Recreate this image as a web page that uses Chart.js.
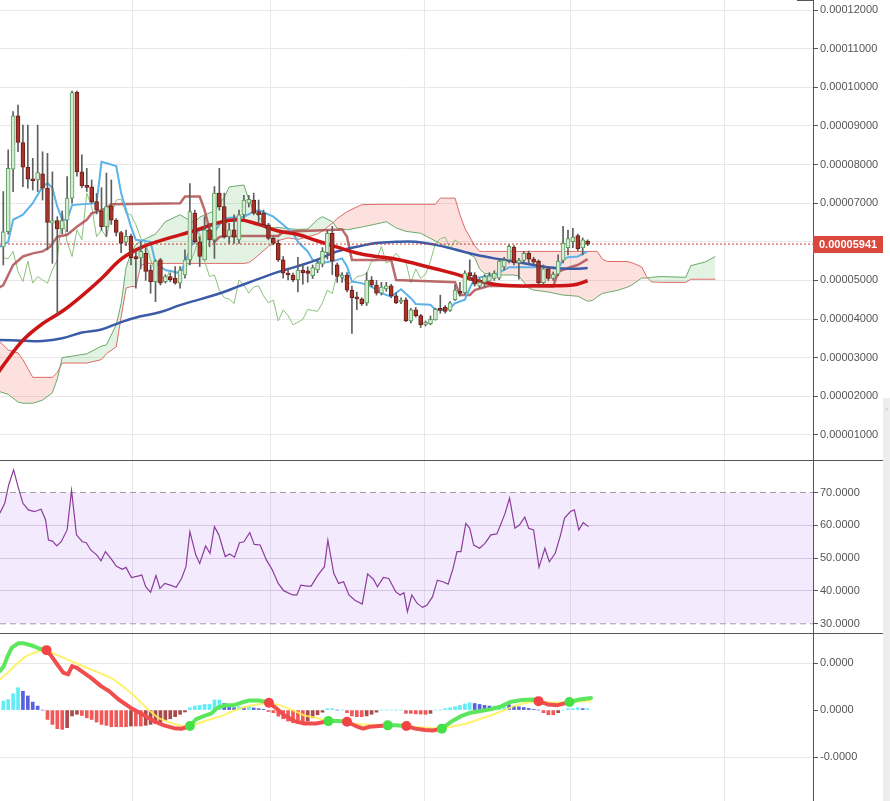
<!DOCTYPE html>
<html>
<head>
<meta charset="utf-8">
<title>Ichimoku / RSI / MACD</title>
<script src="https://cdn.jsdelivr.net/npm/chart.js@4.4.1/dist/chart.umd.min.js"></script>
<style>
  html, body { margin: 0; padding: 0; background: #ffffff; }
  #wrap { position: relative; width: 890px; height: 801px; overflow: hidden; }
  .pane { position: absolute; left: 0; width: 890px; }
  .sep { position: absolute; left: 0; width: 883px; height: 1px; background: #555; }
  #strip { position: absolute; left: 883px; top: 398px; width: 7px; height: 403px; background: #ededed; }
  #arrow { position: absolute; left: 883px; top: 404px; width: 7px; font: 9px 'Liberation Sans', Arial, sans-serif; color: #bbb; text-align: center; }
  #topmark { position: absolute; left: 797px; top: 0; width: 17px; height: 1px; background: #555; }
</style>
</head>
<body>
<div id="wrap">
  <div class="pane" style="top:0;height:460px"><canvas id="priceChart"></canvas></div>
  <div class="pane" style="top:460px;height:173px"><canvas id="rsiChart"></canvas></div>
  <div class="pane" style="top:633px;height:168px"><canvas id="macdChart"></canvas></div>
  <div class="sep" style="top:460px"></div>
  <div class="sep" style="top:633px"></div>
  <div id="topmark"></div>
  <div id="strip"></div>
  <div id="arrow">›</div>
</div>
<script>
// prices are in units of 0.00001, macd in units of 0.000001
const PRICE_UNIT = 1e-5;
const MACD_UNIT = 1e-6;

// candles, index 0..119
const OPEN = [5.87,6.26,7.88,9.26,8.57,7.93,7.63,7.60,7.76,7.39,
  6.48,6.55,6.33,6.56,7.13,9.87,7.81,7.45,7.42,7.04,
  6.80,6.39,6.93,6.56,6.24,5.99,6.14,5.62,5.58,5.70,
  5.27,4.97,5.53,4.97,5.10,5.06,4.93,5.14,5.53,6.74,
  6.00,5.53,6.31,6.05,7.26,6.91,6.13,6.31,6.05,6.70,
  7.00,7.08,6.78,6.74,6.44,6.09,5.96,5.53,5.19,5.14,
  5.01,5.27,5.25,5.12,5.27,5.42,5.72,6.22,5.40,5.08,
  5.14,4.75,4.57,4.52,4.42,5.01,4.88,4.67,4.78,4.86,
  4.60,4.44,4.50,3.95,4.24,4.09,3.86,3.88,3.98,4.28,
  4.30,4.22,4.50,4.72,4.68,5.20,5.14,4.85,4.95,4.98,
  5.05,5.06,5.35,5.53,5.86,5.45,5.52,5.70,5.55,5.50,
  4.94,5.30,5.05,5.16,5.52,5.85,6.00,6.16,5.84,6.02];
const HIGH = [7.30,8.38,9.37,9.54,9.02,9.02,8.16,9.02,8.33,8.29,
  7.81,6.65,6.80,7.69,9.90,9.90,8.25,7.90,7.60,7.25,
  7.40,7.78,7.60,6.60,6.27,6.30,6.20,5.75,6.00,5.85,
  5.40,5.53,5.57,5.15,5.19,5.36,5.36,5.79,7.51,6.82,
  6.13,6.65,6.48,7.43,7.90,7.26,6.48,6.70,6.82,7.20,
  7.20,7.26,7.08,6.82,6.48,6.13,6.05,5.62,5.32,5.19,
  5.60,5.40,5.35,5.40,5.55,5.85,6.30,6.40,5.45,5.20,
  5.20,4.85,4.70,4.55,5.20,5.10,5.00,4.95,4.95,4.90,
  4.68,4.55,4.55,4.28,4.30,4.12,3.95,4.08,4.28,4.62,
  4.35,4.45,4.88,4.95,5.25,5.53,5.20,5.05,5.15,5.20,
  5.25,5.55,5.60,5.92,5.90,5.57,5.75,5.76,5.60,5.53,
  5.40,5.35,5.22,5.66,6.40,6.30,6.35,6.20,6.10,6.05];
const LOW = [5.40,6.20,7.30,8.33,7.43,7.39,7.34,7.30,7.08,5.79,
  5.44,4.11,6.20,6.26,7.00,7.70,7.40,7.30,7.00,6.72,
  6.30,6.14,6.45,6.15,5.72,5.90,5.40,4.80,5.30,5.00,
  4.67,4.45,4.88,4.93,4.97,4.90,4.80,5.06,5.40,5.96,
  5.36,5.53,5.87,5.57,6.82,6.09,5.96,5.96,5.96,6.60,
  6.90,6.70,6.48,6.40,6.05,5.92,5.49,5.06,5.01,4.97,
  4.70,4.90,4.95,5.05,5.20,5.35,5.55,5.15,4.95,4.95,
  4.70,3.63,4.24,4.35,4.35,4.83,4.62,4.62,4.72,4.55,
  4.40,4.40,3.93,3.90,4.05,3.78,3.82,3.85,3.97,4.15,
  4.15,4.20,4.48,4.60,4.65,5.00,4.85,4.80,4.83,4.95,
  5.00,5.02,5.27,5.45,5.40,5.03,5.45,5.45,5.42,4.90,
  4.90,5.00,5.00,5.12,5.45,5.66,5.85,5.77,5.66,5.90];
const CLOSE = [6.26,7.90,9.26,8.57,7.93,7.62,7.58,7.79,7.39,6.50,
  6.55,6.33,6.55,7.13,9.86,7.81,7.45,7.41,7.04,6.82,
  6.39,6.91,6.56,6.24,5.96,6.14,5.59,5.56,5.75,5.23,
  4.97,5.50,4.93,5.10,5.01,4.93,5.27,5.53,6.78,6.00,
  5.62,6.31,6.05,7.26,6.91,6.13,6.31,6.12,6.70,7.08,
  7.10,6.74,6.70,6.44,6.09,5.96,5.53,5.19,5.14,5.01,
  5.27,5.20,5.18,5.33,5.45,5.75,6.22,5.50,5.10,5.14,
  4.75,4.55,4.52,4.40,5.01,4.88,4.67,4.83,4.86,4.60,
  4.42,4.49,3.95,4.24,4.09,3.85,3.92,3.99,4.25,4.22,
  4.20,4.42,4.75,4.66,5.19,5.12,4.90,4.95,5.10,5.12,
  5.18,5.50,5.52,5.88,5.45,5.52,5.70,5.55,5.47,4.94,
  5.30,5.05,5.16,5.50,5.96,6.08,6.12,5.82,6.05,5.941];
const LAST_PRICE = 5.941;
const CHIKOU_SHIFT = 26;

// ichimoku lines
const TENKAN_X = [-1,1,2,4,6,8,9,10,11,12,13,14,19,20,23,24,25,26,27,30,31,33,36,37,39,40,43,45,49,51,52,55,57,59,60,62,63,65,68,69,70,71,73,75,77,79,81,83,84,87,88,90,91,92,94,95,96,98,100,102,103,112,113,114,115,117,119];
const TENKAN = [5.85,6.00,6.57,6.70,7.00,7.43,7.52,7.39,6.91,6.57,6.57,6.95,7.00,8.07,7.96,7.26,6.82,6.39,6.05,6.00,5.45,5.27,5.19,5.45,6.13,6.31,6.26,6.61,6.65,6.78,6.82,6.65,6.44,6.22,6.00,5.75,5.53,5.45,5.53,5.57,5.36,4.97,4.93,4.84,4.67,4.58,4.77,4.54,4.39,4.37,4.24,4.24,4.28,4.41,4.50,4.80,5.06,5.10,5.14,5.27,5.34,5.34,5.32,5.53,5.60,5.62,5.75];
const KIJUN_X = [-1,0,2,4,6,8,9.5,11,13,15,17,18,20,21,22,36,37,40,41,42,43,44,45,56,57,69,70,71,79,80,92,93,95,96,99,112,113,115,117,119];
const KIJUN = [4.80,4.88,5.40,5.62,5.70,5.75,5.87,6.13,6.18,6.39,6.57,6.74,6.82,6.87,6.97,7.00,7.17,7.17,6.82,6.31,6.00,6.12,6.15,6.15,6.26,6.32,6.13,5.53,5.53,5.01,4.95,4.62,4.62,4.75,4.86,4.84,5.23,5.32,5.40,5.55];
const CLOUD_X = [-1,1,3,4,6,8,10,11,12,17,20,21,23,24,25,26,27,28,29,31,33,36,37,39,40,43,45,46,49,50,51,54,56,58,60,62,64,65,67,68,70,73,77,78,80,82,85,88,89,90,92,93,94,96,97,98,101,104,105,107,108,111,114,117,119,120,121,122,123,125,127,128,130,131,132,134,139,140,143,145];
const SENKOU_A = [2.13,2.05,1.85,1.82,1.82,1.90,2.09,2.45,3.00,3.10,
  3.30,3.33,3.85,4.40,5.33,5.70,5.93,6.02,6.08,6.20,
  6.52,6.70,6.62,6.50,6.64,6.80,7.15,7.42,7.47,7.10,
  6.80,6.35,6.37,6.34,6.32,6.33,6.58,6.65,6.52,6.35,
  6.31,6.38,6.49,6.52,6.36,6.27,6.22,6.02,5.95,5.89,
  5.82,5.79,5.74,5.60,5.30,5.18,5.14,5.14,5.11,4.80,
  4.75,4.70,4.62,4.59,4.46,4.48,4.58,4.66,4.69,4.74,
  4.82,4.88,5.06,5.06,5.08,5.10,5.08,5.38,5.48,5.62];
const SENKOU_B = [3.45,3.20,3.12,2.95,2.49,2.49,2.49,2.62,2.86,2.86,
  2.95,3.10,3.28,4.05,4.80,4.84,4.84,5.38,5.44,5.44,
  5.44,5.44,5.44,5.44,5.44,5.44,5.44,5.44,5.44,5.46,
  5.55,5.88,6.03,6.10,6.06,6.13,6.20,6.28,6.48,6.60,
  6.78,6.96,6.97,6.97,6.97,6.97,6.97,6.97,7.13,7.13,
  7.13,6.70,6.35,5.90,5.75,5.75,5.75,5.75,5.75,5.75,
  5.75,5.75,5.75,5.75,5.75,5.75,5.75,5.55,5.49,5.49,
  5.49,5.46,5.35,5.10,4.96,4.95,4.95,5.03,5.03,5.03];

// moving averages
const MA_RED_X = [-1,0,4,8,12,16,20,24,28,32,36,40,44,48,52,56,60,64,68,72,76,80,84,88,92,96,100,104,108,112,116,119];
const MA_RED = [2.62,2.80,3.45,3.88,4.20,4.60,5.05,5.55,5.85,6.03,6.18,6.33,6.50,6.57,6.45,6.28,6.19,6.02,5.86,5.71,5.62,5.55,5.43,5.30,5.17,5.01,4.90,4.86,4.86,4.86,4.88,4.99];
const MA_BLUE_X = [-1,4,8,12,16,20,24,28,32,36,40,44,48,52,56,60,64,68,72,76,80,84,88,92,96,100,104,108,112,116,119];
const MA_BLUE = [3.46,3.44,3.43,3.50,3.65,3.73,3.92,4.07,4.18,4.36,4.51,4.66,4.85,5.04,5.22,5.37,5.54,5.75,5.87,5.97,6.00,6.00,5.92,5.80,5.67,5.57,5.49,5.40,5.32,5.30,5.32];

// rsi
const RSI_X = [-0.7,0.3,1.1,2.1,3.0,4.0,5.1,6.3,7.0,7.7,8.6,9.2,10.0,10.9,11.8,13.0,13.9,14.9,16.1,16.9,
  17.8,19.0,19.9,20.8,21.9,23.0,24.2,25.0,26.1,27.6,28.2,29.0,30.0,31.1,31.9,32.9,34.0,35.2,36.3,37.2,
  38.0,39.2,40.0,41.2,42.1,43.0,43.9,45.2,46.1,47.1,48.1,49.0,50.2,51.1,52.3,53.6,54.8,56.0,57.1,58.9,
  59.8,60.6,61.8,62.7,64.1,65.4,66.1,67.3,68.3,69.3,70.4,71.6,73.1,74.2,75.4,76.2,77.4,78.5,79.9,80.8,
  81.6,82.3,83.2,84.3,85.4,86.3,87.4,88.4,89.5,90.6,91.6,92.4,93.2,94.2,95.0,95.8,97.0,98.1,99.3,100.5,
  101.4,102.2,103.1,104.2,105.1,106.2,107.0,108.0,109.1,110.3,111.2,112.4,113.5,114.3,115.5,116.3,117.2,118.1,119.2];
const RSI = [63.7,66.7,72.3,76.9,71.8,66.7,64.7,64.2,64.5,64.9,61.7,55.5,55.2,53.7,55.0,58.6,70.6,57.1,55.0,54.7,
  52.5,51.0,49.2,52.0,49.9,47.6,46.6,47.2,44.1,44.6,44.9,41.3,39.6,44.7,40.8,42.3,41.8,41.1,43.8,47.4,
  58.1,51.0,48.4,53.7,51.5,59.6,57.1,50.5,51.3,50.3,54.7,55.0,57.8,54.2,54.0,49.4,46.4,42.3,40.1,38.8,
  38.8,41.8,41.5,41.5,44.9,47.4,55.5,45.4,42.3,42.8,38.8,37.2,36.0,45.2,43.5,41.3,44.1,43.8,39.8,38.8,
  39.5,33.7,38.8,36.2,35.0,35.7,38.2,43.3,42.8,42.1,46.9,52.0,52.0,60.6,59.1,54.0,53.0,54.5,57.1,57.4,
  60.6,63.7,68.3,59.1,60.1,62.5,59.1,58.6,47.2,53.0,48.9,51.5,57.1,62.2,64.2,64.7,58.6,60.8,59.6];
const RSI_UPPER = 70;
const RSI_LOWER = 30;

// macd
const MACD_X = [-0.7,0.1,0.9,1.7,3.0,4.2,5.8,7.4,8.8,9.8,11.0,12.2,13.2,14.0,15.0,16.2,17.8,19.9,21.5,23.5,
  25.9,28.3,30.7,32.7,34.8,36.4,38.0,39.2,40.8,42.4,43.6,45.2,46.8,48.4,50.1,52.1,54.1,55.7,57.3,59.3,
  61.3,63.7,66.2,68.2,70.0,71.8,73.3,74.6,76.6,78.3,79.9,82.1,83.9,85.9,87.5,89.3,91.1,93.2,95.2,97.2,
  99.2,101.2,103.2,105.6,108.0,109.0,110.9,112.9,115.3,117.3,119.7];
const MACD = [1.66,1.87,2.30,2.65,2.84,2.84,2.75,2.61,2.55,2.30,1.94,1.59,1.52,1.87,1.80,1.62,1.38,1.02,0.81,0.45,
  0.10,-0.18,-0.47,-0.65,-0.77,-0.79,-0.68,-0.40,-0.26,-0.14,0.10,0.20,0.20,0.31,0.41,0.41,0.31,0.06,-0.23,-0.47,
  -0.57,-0.57,-0.47,-0.47,-0.50,-0.68,-0.79,-0.71,-0.68,-0.65,-0.65,-0.68,-0.79,-0.85,-0.87,-0.79,-0.51,-0.26,-0.11,-0.04,
  0.03,0.14,0.34,0.43,0.45,0.38,0.24,0.21,0.34,0.45,0.51];
const SIGNAL_X = [-0.7,0.9,2.6,4.2,5.8,7.4,8.8,10.6,13.0,15.4,17.8,20.3,22.3,24.3,26.7,29.1,31.5,34.0,36.4,38.0,
  39.6,42.0,44.4,46.8,49.3,51.7,54.1,56.5,58.9,61.3,63.7,66.2,68.6,71.0,73.4,76.6,79.9,83.1,86.3,89.3,
  92.0,94.4,96.8,99.2,101.6,104.0,106.4,109.0,112.1,115.3,117.7,119.7];
const SIGNAL = [1.30,1.59,1.94,2.23,2.41,2.51,2.55,2.37,2.16,1.94,1.73,1.52,1.33,1.02,0.60,0.10,-0.33,-0.54,-0.68,-0.68,
  -0.57,-0.40,-0.26,-0.04,0.14,0.24,0.31,0.20,0.00,-0.23,-0.33,-0.47,-0.51,-0.57,-0.61,-0.65,-0.68,-0.71,-0.75,-0.79,
  -0.68,-0.57,-0.40,-0.23,-0.04,0.17,0.31,0.38,0.31,0.34,0.38,0.41];
const HIST = [0.38,0.45,0.70,0.95,0.80,0.60,0.34,0.17,0,-0.40,
  -0.61,-0.79,-0.82,-0.75,-0.25,-0.18,-0.23,-0.33,-0.40,-0.51,
  -0.61,-0.65,-0.71,-0.71,-0.71,-0.71,-0.68,-0.68,-0.68,-0.65,
  -0.61,-0.57,-0.51,-0.43,-0.37,-0.28,-0.18,-0.08,0.10,0.17,
  0.20,0.24,0.24,0.43,0.43,0.28,0.20,0.10,0.14,0.10,
  0.13,0.09,0.06,0.03,-0.06,-0.11,-0.26,-0.37,-0.47,-0.54,
  -0.57,-0.57,-0.47,-0.33,-0.20,-0.09,0.06,0.06,0,0,
  -0.11,-0.25,-0.28,-0.28,-0.25,-0.18,-0.09,0,0,0,
  0,0,-0.14,-0.14,-0.16,-0.17,-0.18,-0.14,0,0,
  0.06,0.10,0.14,0.20,0.26,0.31,0.28,0.24,0.20,0.17,
  0.17,0.17,0.24,0.23,0.17,0.14,0.11,0.07,0.03,0,
  -0.11,-0.20,-0.20,-0.11,0,0.06,0.06,0.10,0.06,0.06];
const CROSS_X = [8.8,38.0,54.1,66.2,70.0,78.3,82.1,89.3,109.0,115.3];
const CROSS_Y = [2.55,-0.68,0.31,-0.47,-0.50,-0.65,-0.68,-0.79,0.38,0.34];
const CROSS_DIR = ['down','up','down','up','down','up','down','up','down','up'];

// axes
const PRICE_TICKS = [1,2,3,4,5,6,7,8,9,10,11,12];
const RSI_TICKS = [30,40,50,60,70];
const MACD_TICKS = [-2,0,2];
const TIME_GRID = [26.4, 54.5, 85.7, 115.6, 146.8];
const X_MIN = -0.67, X_MAX = 164.9;
const AXIS_WIDTH = 77;
const FONT = { family: "'Liberation Sans', Arial, sans-serif", size: 11 };

const MACD_UP = '#5ce65c';
const MACD_DOWN = '#f04e4e';

function pts(xs, ys) {
    return xs.map((x, i) => ({ x: x, y: ys[i] }));
}

function line(xs, ys, color, width, order, extra) {
    return Object.assign({
        type: 'line', data: pts(xs, ys), borderColor: color, borderWidth: width,
        pointRadius: 0, fill: false, tension: 0, order: order
    }, extra || {});
}

function xAxis() {
    return {
        type: 'linear', min: X_MIN, max: X_MAX, offset: false,
        afterBuildTicks: s => { s.ticks = TIME_GRID.map(v => ({ value: v })); },
        afterFit: s => { s.height = 0; s.paddingLeft = 0; s.paddingRight = 0; },
        ticks: { display: false },
        border: { display: false },
        grid: { color: '#e8e8e8', drawTicks: false, offset: false }
    };
}

function yAxis(min, max, tickValues, format, gridColor) {
    return {
        position: 'right', min: min, max: max,
        afterBuildTicks: s => { s.ticks = tickValues.map(v => ({ value: v })); },
        // no label padding, the plot must fill the whole pane height
        afterFit: s => { s.width = AXIS_WIDTH; s.paddingTop = 0; s.paddingBottom = 0; },
        border: { display: true, color: '#555' },
        grid: { color: gridColor, tickColor: '#555', tickLength: 5 },
        ticks: { color: '#555', font: FONT, padding: 2, callback: format }
    };
}

function baseOptions(yCfg) {
    return {
        responsive: true, maintainAspectRatio: false, animation: false,
        layout: { padding: 0, autoPadding: false },
        events: [],
        plugins: { legend: { display: false }, tooltip: { enabled: false } },
        scales: { x: xAxis(), y: yCfg }
    };
}

// red tag with the last price on the axis
const lastPriceTag = {
    id: 'lastPriceTag',
    afterDraw(chart) {
        const ctx = chart.ctx;
        const y = Math.round(chart.scales.y.getPixelForValue(LAST_PRICE));
        const left = chart.chartArea.right;
        ctx.save();
        ctx.fillStyle = '#d9473d';
        ctx.fillRect(left, y - 8, 70, 17);
        ctx.fillStyle = '#ffffff';
        ctx.font = "bold 11px 'Liberation Sans', Arial, sans-serif";
        ctx.textBaseline = 'middle';
        ctx.fillText((LAST_PRICE * PRICE_UNIT).toFixed(8), left + 6, y + 0.5);
        ctx.restore();
    }
};

const candleIdx = CLOSE.map((c, k) => k);
const isUp = k => CLOSE[k] >= OPEN[k];

// Ichimoku + candles
new Chart(document.getElementById('priceChart'), {
    type: 'bar',
    data: {
        datasets: [
            line(CLOUD_X, SENKOU_A, '#6aa86a', 1, 10, {
                fill: { target: '+1', above: 'rgba(76,175,80,0.16)', below: 'rgba(244,67,54,0.16)' }
            }),
            line(CLOUD_X, SENKOU_B, '#e36a6a', 1, 11),
            {
                type: 'line', order: 9, borderColor: '#8cc07c', borderWidth: 1, pointRadius: 0, fill: false,
                data: CLOSE.slice(CHIKOU_SHIFT).map((c, i) => ({ x: i, y: c }))
            },
            line(KIJUN_X, KIJUN, 'rgba(170,70,70,0.8)', 2.5, 8),
            line(TENKAN_X, TENKAN, '#5cb3ea', 2, 7),
            line(MA_BLUE_X, MA_BLUE, '#3b5ca8', 2.5, 6, { tension: 0.4 }),
            line(MA_RED_X, MA_RED, '#cc1616', 3.5, 5, { tension: 0.4 }),
            line([X_MIN, X_MAX], [LAST_PRICE, LAST_PRICE], '#c0392b', 1, 4, { borderDash: [2, 2] }),
            {
                type: 'bar', order: 2, grouped: false, barThickness: 1, borderWidth: 0,
                backgroundColor: '#5e5e5e',
                data: candleIdx.map(k => ({ x: k, y: [LOW[k], HIGH[k]] }))
            },
            {
                type: 'bar', order: 1, grouped: false, barThickness: 4, minBarLength: 2,
                borderWidth: 1, borderSkipped: false,
                backgroundColor: c => isUp(c.dataIndex) ? '#d4ecd4' : '#a5342b',
                borderColor: c => isUp(c.dataIndex) ? '#5b9a5b' : '#6e1d17',
                data: candleIdx.map(k => ({ x: k, y: [OPEN[k], CLOSE[k]] }))
            }
        ]
    },
    options: baseOptions(yAxis(0.35, 12.26, PRICE_TICKS, v => (v * PRICE_UNIT).toFixed(8), '#e8e8e8')),
    plugins: [lastPriceTag]
});

// RSI
new Chart(document.getElementById('rsiChart'), {
    type: 'line',
    data: {
        datasets: [
            line([X_MIN, X_MAX], [RSI_UPPER, RSI_UPPER], '#a0a0a0', 1, 3, {
                borderDash: [6, 4], fill: { target: '+1' }, backgroundColor: 'rgba(170,90,240,0.13)'
            }),
            line([X_MIN, X_MAX], [RSI_LOWER, RSI_LOWER], '#a0a0a0', 1, 3, { borderDash: [6, 4] }),
            line(RSI_X, RSI, '#8b3d9b', 1.2, 1)
        ]
    },
    options: baseOptions(yAxis(27.2, 79.9, RSI_TICKS, v => v.toFixed(4),
        c => (c.tick.value === RSI_UPPER || c.tick.value === RSI_LOWER) ? 'rgba(0,0,0,0)' : '#ddd4e4'))
});

// MACD
function macdColor(x) {
    let dir = 'up';
    CROSS_X.forEach((cx, i) => { if (cx <= x) dir = CROSS_DIR[i]; });
    return dir === 'up' ? MACD_UP : MACD_DOWN;
}

function histColor(c) {
    const k = c.dataIndex;
    const v = HIST[k];
    const prev = k > 0 ? HIST[k - 1] : 0;
    if (v >= 0) return v >= prev ? 'rgba(80,235,245,0.9)' : 'rgba(60,70,215,0.85)';
    return v <= prev ? 'rgba(240,70,70,0.9)' : 'rgba(160,55,55,0.9)';
}

new Chart(document.getElementById('macdChart'), {
    type: 'bar',
    data: {
        datasets: [
            {
                type: 'bar', order: 4, grouped: false, barThickness: 3, borderWidth: 0,
                backgroundColor: histColor,
                data: HIST.map((v, k) => ({ x: k, y: v }))
            },
            line(SIGNAL_X, SIGNAL, 'rgba(255,240,80,0.85)', 2, 3),
            line(MACD_X, MACD, MACD_UP, 4, 2, {
                borderCapStyle: 'round', borderJoinStyle: 'round',
                segment: { borderColor: s => macdColor((s.p0.parsed.x + s.p1.parsed.x) / 2) }
            }),
            {
                type: 'line', order: 1, showLine: false, pointRadius: 5, pointBorderWidth: 0,
                pointBackgroundColor: c => CROSS_DIR[c.dataIndex] === 'up' ? '#45e045' : '#f24444',
                data: pts(CROSS_X, CROSS_Y)
            }
        ]
    },
    options: baseOptions(yAxis(-3.87, 3.28, MACD_TICKS, v => (v * MACD_UNIT).toFixed(4),
        c => c.tick.value === 0 ? 'rgba(0,0,0,0)' : '#e8e8e8'))
});
</script>
</body>
</html>
